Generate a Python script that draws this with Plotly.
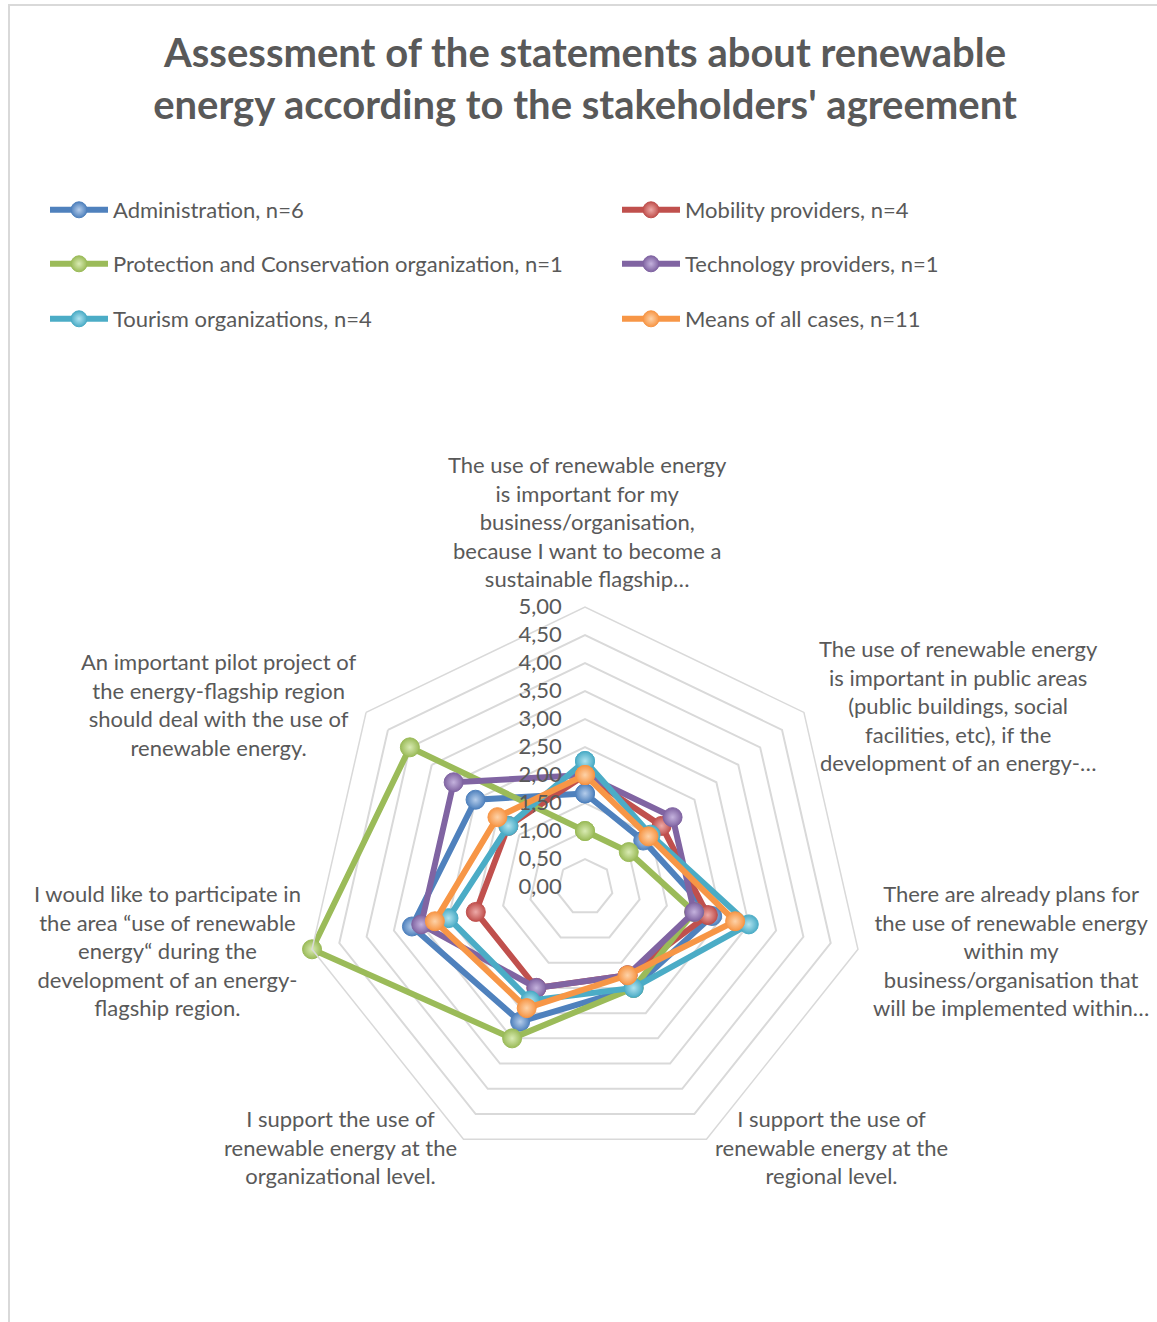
import plotly.graph_objects as go

categories = [
    "The use of renewable energy<br>is important for my<br>business/organisation,<br>because I want to become a<br>sustainable flagship…",
    "The use of renewable energy<br>is important in public areas<br>(public buildings, social<br>facilities, etc), if the<br>development of an energy-…",
    "There are already plans for<br>the use of renewable energy<br>within my<br>business/organisation that<br>will be implemented within…",
    "I support the use of<br>renewable energy at the<br>regional level.",
    "I support the use of<br>renewable energy at the<br>organizational level.",
    "I would like to participate in<br>the area “use of renewable<br>energy“ during the<br>development of an energy-<br>flagship region.",
    "An important pilot project of<br>the energy-flagship region<br>should deal with the use of<br>renewable energy.",
]

series_names = [
    "Administration, n=6",
    "Mobility providers, n=4",
    "Protection and Conservation organization, n=1",
    "Technology providers, n=1",
    "Tourism organizations, n=4",
    "Means of all cases, n=11",
]

administration = [1.67, 1.33, 2.33, 2.00, 2.67, 3.17, 2.50]
mobility = [2.00, 1.75, 2.25, 1.75, 2.00, 2.00, 1.75]
protection = [1.00, 1.00, 2.00, 2.00, 3.00, 5.00, 4.00]
technology = [2.00, 2.00, 2.00, 1.75, 2.00, 3.00, 3.00]
tourism = [2.25, 1.50, 3.00, 2.00, 2.25, 2.50, 1.75]
means = [2.00, 1.45, 2.75, 1.75, 2.40, 2.75, 2.00]

series_values = [administration, mobility, protection, technology, tourism, means]
colors = ["#4F81BD", "#C0504D", "#9BBB59", "#8064A2", "#4BACC6", "#F79646"]
light = ["#B5CDEB", "#EDAAA8", "#D9EBB3", "#C4B2DD", "#B0E3F0", "#FDD2A8"]
legend_ids = ["legend", "legend", "legend2", "legend2", "legend3", "legend3"]

radial_ticks = [0, 0.5, 1, 1.5, 2, 2.5, 3, 3.5, 4, 4.5, 5]

W, H = 1157, 1322
cx, cy, R = 585, 887, 280

# category label block centres (px, from the top-left of the chart)
label_pos = [(587, 521), (958, 705), (1011, 950), (831, 1147),
             (340, 1147), (167, 950), (219, 704)]

fig = go.Figure()
for name, vals, col, lc, lg in zip(series_names, series_values, colors, light, legend_ids):
    fig.add_trace(go.Scatterpolar(
        r=vals + vals[:1],
        theta=categories + categories[:1],
        mode="lines+markers",
        name=name,
        line=dict(color=col, width=6),
        marker=dict(size=19, color=col, gradient=dict(type="radial", color=lc),
                    line=dict(color=col, width=1)),
        legend=lg,
    ))

font_family = "Lato, 'Open Sans', sans-serif"
grey = "#595959"
grid = "#D9D9D9"

legend_common = dict(
    orientation="h", xref="container", yref="container", x=45 / W,
    xanchor="left", yanchor="middle", entrywidth=499, entrywidthmode="pixels",
    itemwidth=58, font=dict(family=font_family, size=22, color=grey),
    bgcolor="rgba(0,0,0,0)", traceorder="normal",
)

annotations = [
    dict(text=cat, x=px / W, y=1 - py / H, xref="paper", yref="paper",
         xanchor="center", yanchor="middle", align="center", showarrow=False,
         font=dict(family=font_family, size=22, color=grey))
    for cat, (px, py) in zip(categories, label_pos)
]

fig.update_layout(
    width=W, height=H,
    margin=dict(l=0, r=0, t=0, b=0, autoexpand=False),
    paper_bgcolor="white",
    separators=",.",
    font=dict(family=font_family, size=22, color=grey),
    title=dict(
        text="<b>Assessment of the statements about renewable<br>energy according to the stakeholders' agreement</b>",
        x=585 / W, xanchor="center", xref="container",
        y=1 - 67 / H, yanchor="middle", yref="container",
        font=dict(family=font_family, size=40, color=grey),
    ),
    legend=dict(**legend_common, y=1 - 210 / H),
    legend2=dict(**legend_common, y=1 - 264 / H),
    legend3=dict(**legend_common, y=1 - 319 / H),
    polar=dict(
        domain=dict(x=[(cx - R) / W, (cx + R) / W], y=[(H - cy - R) / H, (H - cy + R) / H]),
        gridshape="linear",
        bgcolor="white",
        angularaxis=dict(
            rotation=90, direction="clockwise",
            showgrid=False, showline=True, linecolor=grid, linewidth=1.5,
            ticks="", showticklabels=False,
        ),
        radialaxis=dict(
            range=[0, 5], angle=90, tickangle=90, side="counterclockwise",
            tickvals=radial_ticks, tickformat=".2f",
            showline=False, ticks="outside", ticklen=15, tickcolor="rgba(0,0,0,0)",
            gridcolor=grid, gridwidth=1.5,
            tickfont=dict(family=font_family, size=22, color=grey),
        ),
    ),
    annotations=annotations,
    shapes=[dict(type="rect", xref="paper", yref="paper",
                 x0=9 / W, x1=1.02, y0=-0.02, y1=1 - 5 / H,
                 line=dict(color=grid, width=2), fillcolor="rgba(0,0,0,0)", layer="below")],
)

fig.write_html("out.html", config={"displayModeBar": False},
               post_script="document.body.style.margin='0px';")
